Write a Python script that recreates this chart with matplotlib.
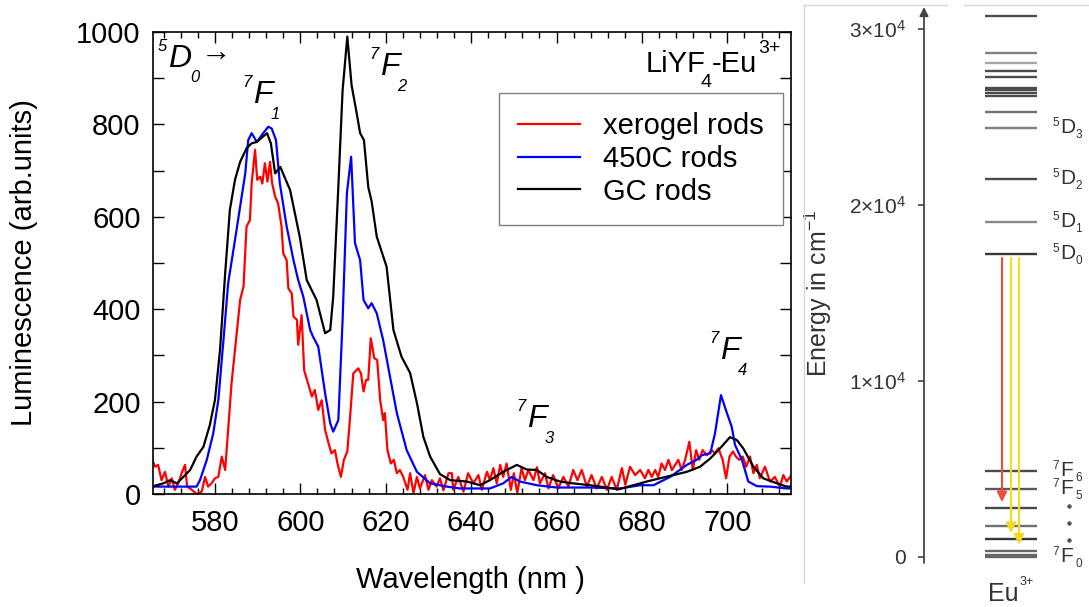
import numpy as np
import matplotlib.pyplot as plt
from matplotlib.lines import Line2D
from matplotlib.ticker import MultipleLocator

plt.rcParams['font.family'] = ['Liberation Sans', 'DejaVu Sans']
plt.rcParams['mathtext.fontset'] = 'custom'
plt.rcParams['mathtext.rm'] = 'Liberation Sans'
plt.rcParams['mathtext.it'] = 'Liberation Sans:italic'

# ---- emission spectra (wavelength nm, luminescence arb. units) ----
wl_xerogel = [565.2, 566.0, 566.7, 567.5, 568.3, 569.1, 569.9, 570.6, 571.4, 572.2,
              573.0, 573.5, 574.6, 575.7, 576.9, 577.7, 578.4, 579.2, 580.0, 580.8,
              581.6, 582.4, 583.1, 583.9, 585.1, 585.9, 586.7, 587.4, 588.2, 588.6,
              589.4, 589.9, 590.6, 591.1, 591.7, 592.3, 592.9, 593.4, 594.1, 594.8,
              595.6, 596.0, 596.8, 597.2, 598.0, 598.4, 599.2, 599.5, 600.3, 600.9,
              601.9, 602.7, 603.4, 604.2, 605.0, 605.8, 606.6, 607.3, 608.1, 608.7,
              609.5, 610.2, 611.0, 611.6, 612.4, 613.6, 614.2, 614.8, 615.4, 615.9,
              616.5, 617.3, 618.0, 618.7, 619.4, 619.8, 620.4, 621.2, 621.9, 622.6,
              623.3, 624.1, 625.1, 625.7, 626.5, 627.3, 628.0, 629.2, 630.0, 630.8,
              631.9, 632.7, 633.5, 634.7, 635.5, 635.8, 637.0, 638.2, 639.3, 640.5,
              641.7, 642.5, 643.7, 644.4, 645.2, 646.0, 646.8, 647.5, 648.3, 649.3,
              650.0, 650.8, 651.8, 652.6, 653.4, 654.6, 655.4, 656.1, 657.3, 658.1,
              659.2, 660.4, 661.6, 662.8, 663.9, 664.9, 665.9, 667.1, 668.2, 669.4,
              670.6, 671.8, 672.9, 674.1, 675.3, 676.1, 677.2, 678.4, 679.6, 680.7,
              681.5, 682.3, 683.1, 683.8, 684.6, 685.4, 686.2, 687.0, 687.8, 688.5,
              689.3, 690.1, 691.1, 691.9, 692.7, 693.4, 694.2, 695.2, 696.3, 697.1,
              697.9, 698.9, 699.7, 700.5, 701.3, 702.0, 702.8, 703.6, 704.4, 705.3,
              706.1, 706.9, 707.6, 708.8, 710.0, 711.1, 712.3, 713.1, 713.9, 715.0]
lum_xerogel = [77, 59, 63, 30, 48, 16, 34, 9, 23, 45,
               63, 16, 9, 0, 5, 37, 16, 23, 34, 37,
               81, 52, 139, 240, 348, 420, 449, 579, 593, 672,
               745, 680, 687, 672, 716, 676, 719, 672, 644, 629,
               579, 521, 506, 445, 434, 384, 377, 323, 387, 268,
               236, 211, 225, 182, 203, 139, 110, 88, 95, 66,
               37, 74, 92, 160, 261, 272, 261, 222, 247, 247,
               337, 294, 290, 203, 160, 175, 95, 66, 74, 45,
               52, 37, 9, 45, 2, 37, 12, 41, 9, 30,
               16, 34, 8, 45, 45, 9, 37, 5, 45, 23,
               41, 9, 48, 30, 56, 23, 63, 37, 66, 9,
               45, 2, 56, 30, 52, 30, 58, 23, 45, 12,
               41, 12, 37, 16, 52, 30, 52, 16, 41, 12,
               37, 9, 37, 9, 56, 20, 59, 41, 52, 34,
               52, 37, 52, 37, 66, 52, 74, 52, 63, 74,
               52, 74, 113, 52, 95, 74, 95, 84, 95, 88,
               99, 74, 34, 81, 92, 81, 74, 81, 59, 81,
               45, 63, 34, 59, 27, 37, 16, 41, 27, 41]

wl_450c = [564.8, 568.0, 572.0, 575.7, 576.5, 578.1, 579.6, 580.8, 582.0, 583.1,
           584.7, 585.9, 587.1, 587.8, 588.6, 589.8, 591.3, 592.5, 593.3, 594.3,
           595.2, 596.8, 598.4, 599.5, 600.7, 602.3, 603.0, 604.2, 605.8, 607.0,
           607.7, 608.9, 609.9, 610.9, 611.9, 612.8, 614.0, 614.8, 615.9, 616.7,
           617.9, 619.4, 621.0, 622.6, 624.9, 627.3, 630.4, 632.7, 634.3, 637.4,
           640.5, 644.4, 647.5, 649.5, 651.4, 655.4, 660.0, 667.8, 674.9, 679.6,
           682.7, 686.6, 690.5, 692.8, 694.0, 696.0, 697.1, 698.5, 699.9, 701.0,
           701.8, 703.4, 704.9, 706.9, 710.0, 713.9, 715.0]
lum_450c = [16, 16, 16, 16, 30, 74, 131, 203, 333, 456,
            550, 622, 694, 766, 781, 762, 781, 795, 791, 766,
            672, 579, 506, 463, 427, 355, 340, 319, 218, 153,
            135, 160, 377, 651, 730, 543, 506, 420, 402, 413,
            391, 333, 254, 175, 95, 48, 23, 19, 16, 12,
            12, 12, 23, 37, 27, 19, 14, 14, 12, 19,
            19, 37, 63, 74, 84, 88, 131, 214, 175, 146,
            106, 74, 27, 17, 16, 12, 12]

wl_gc = [565.2, 567.9, 569.5, 571.1, 572.6, 574.2, 575.7, 577.3, 578.8, 580.0,
         581.2, 582.4, 583.5, 584.7, 585.9, 587.4, 588.6, 589.8, 592.2, 593.1,
         594.1, 595.3, 597.6, 599.9, 601.5, 603.8, 605.8, 607.0, 607.7, 608.9,
         609.9, 611.0, 612.0, 613.2, 614.0, 614.9, 615.9, 616.7, 617.9, 620.2,
         621.8, 623.7, 625.7, 627.3, 628.8, 630.4, 632.7, 635.1, 639.0, 642.1,
         644.4, 647.5, 650.7, 653.0, 655.4, 657.7, 660.8, 663.9, 667.8, 671.8,
         674.5, 677.2, 679.6, 681.1, 684.2, 687.4, 690.5, 693.6, 696.0, 698.3,
         700.6, 702.2, 703.7, 706.1, 708.4, 711.6, 713.9, 715.0]
lum_gc = [16, 23, 30, 23, 37, 52, 81, 102, 149, 203,
          312, 478, 615, 680, 719, 748, 759, 762, 781, 759,
          694, 708, 658, 555, 463, 420, 348, 355, 427, 665,
          874, 990, 885, 824, 781, 766, 665, 633, 557, 492,
          355, 297, 262, 197, 124, 81, 43, 30, 27, 19,
          30, 48, 63, 53, 52, 37, 27, 23, 19, 14,
          10, 17, 23, 27, 34, 41, 48, 59, 77, 99,
          123, 117, 99, 59, 34, 23, 16, 16]

series_labels = ['xerogel rods', '450C rods', 'GC rods']
series_colors = ['#ff0000', '#0000ff', '#000000']
x_ticks = [580, 600, 620, 640, 660, 680, 700]
y_ticks = [0, 200, 400, 600, 800, 1000]

# ---- Eu3+ energy levels (cm^-1) ----
d_levels = [30750, 28650, 28080, 27610, 27290, 26650, 26510, 26360, 26220,
            25280, 24380, 21480, 19030, 17220]
d_shades = ['#4a4a4a', '#808080', '#a5a5a5', '#4a4a4a', '#4a4a4a', '#4a4a4a',
            '#4a4a4a', '#4a4a4a', '#4a4a4a', '#707070', '#808080', '#4a4a4a',
            '#8a8a8a', '#383838']
f_levels = [4890, 3860, 2780, 1760, 1020, 360, 130, 0]
f_shades = ['#4a4a4a', '#5a5a5a', '#4a4a4a', '#707070', '#383838', '#666666',
            '#666666', '#666666']
d_names = [('5', 'D', '3', 24380), ('5', 'D', '2', 21480), ('5', 'D', '1', 19030),
           ('5', 'D', '0', 17220)]
f_names = [('7', 'F', '6', 4890), ('7', 'F', '5', 3860), ('7', 'F', '0', 0)]
energy_ticks = [0, 10000, 20000, 30000]
energy_ticklabels = ['0', r'$1{\times}10^4$', r'$2{\times}10^4$', r'$3{\times}10^4$']
start_level = 17220
transitions = [(2780, '#ee4b3a'), (1020, '#f2dc1c'), (360, '#f2dc1c')]

W, H = 1089, 607
fig = plt.figure(figsize=(W / 100, H / 100), dpi=100)


def box(left, top, right, bottom):
    return [left / W, 1 - bottom / H, (right - left) / W, (bottom - top) / H]


def term(ax, x, y, sup, base, sub, size, small, adv, sup_dy, sub_dy,
         style='italic', color='black'):
    """Term symbol: big letter with a left superscript and a right subscript."""
    kw = dict(xy=(x, y), textcoords='offset points', va='baseline',
              style=style, color=color, annotation_clip=False)
    ax.annotate(base, xytext=(0, 0), ha='left', fontsize=size, **kw)
    ax.annotate(sup, xytext=(-1, sup_dy), ha='right', fontsize=small, **kw)
    ax.annotate(sub, xytext=(adv, sub_dy), ha='left', fontsize=small, **kw)


# ---------------- spectrum ----------------
ax = fig.add_axes(box(153, 32, 791, 494))
for wl, lum, lab, col in zip([wl_xerogel, wl_450c, wl_gc],
                             [lum_xerogel, lum_450c, lum_gc],
                             series_labels, series_colors):
    ax.plot(wl, lum, color=col, lw=1.6, label=lab)

ax.set_xlim(565.5, 714.9)
ax.set_ylim(0, 1000)
ax.set_xticks(x_ticks)
ax.set_yticks(y_ticks)
ax.xaxis.set_minor_locator(MultipleLocator(4))
ax.yaxis.set_minor_locator(MultipleLocator(100))
ax.tick_params(which='both', direction='in', top=True, right=True, width=1)
ax.tick_params(which='major', length=8)
ax.tick_params(axis='x', which='minor', length=4)
ax.tick_params(axis='y', which='minor', length=8)
ax.tick_params(axis='y', labelsize=21, pad=9)
ax.tick_params(axis='x', labelsize=21, pad=11)
for sp in ax.spines.values():
    sp.set_linewidth(1.2)

ax.set_ylabel('Luminescence (arb.units)', fontsize=21)
ax.yaxis.set_label_coords((38 - 153) / 638, 0.5)
ax.set_xlabel('Wavelength (nm )', fontsize=21)
ax.xaxis.set_label_coords(0.497, (494 - 566) / 462)

leg = ax.legend(loc='upper left', bbox_to_anchor=((499 - 153) / 638, (494 - 93) / 462),
                fontsize=21, fancybox=False, edgecolor='#808080', framealpha=1,
                handlelength=2.1, handletextpad=0.8, borderpad=0.66,
                labelspacing=0.16, borderaxespad=0)
leg.get_frame().set_linewidth(1.0)

# transition labels
term(ax, 569.0, 924, '5', 'D', '0', 23, 12, adv=16, sup_dy=11.5, sub_dy=-11)
ax.annotate('\u2192', xy=(569.0, 924), xytext=(24, 9.5), textcoords='offset points',
            ha='left', va='center', fontsize=22,
            family=['Liberation Sans', 'DejaVu Sans'])
for x, y, sub in [(588.9, 846, '1'), (618.7, 907, '2'), (653.1, 145, '3'),
                  (698.3, 292, '4')]:
    term(ax, x, y, '7', 'F', sub, 23, 12, adv=12.5, sup_dy=11.5, sub_dy=-11.5)

ax.annotate('LiYF', xy=(680.8, 913), xytext=(0, 0), textcoords='offset points',
            ha='left', va='baseline', fontsize=21)
ax.annotate('4', xy=(680.8, 913), xytext=(40, -11), textcoords='offset points',
            ha='left', va='baseline', fontsize=14)
ax.annotate('-Eu', xy=(680.8, 913), xytext=(48, 0), textcoords='offset points',
            ha='left', va='baseline', fontsize=21)
ax.annotate('3+', xy=(680.8, 913), xytext=(81, 14), textcoords='offset points',
            ha='left', va='baseline', fontsize=14, annotation_clip=False)

# ---------------- energy level diagram ----------------
ax2 = fig.add_axes(box(804, 5, 1089, 607))
ax2.patch.set_visible(False)
ax2.set_xlim(804, 1089)
ax2.set_ylim((557 - 607) / 0.0176, (557 - 5) / 0.0176)
for name in ['top', 'right', 'bottom']:
    ax2.spines[name].set_visible(False)
ax2.spines['left'].set_position(('data', 924))
ax2.spines['left'].set_alpha(0)
ax2.set_xticks([])
ax2.set_yticks(energy_ticks, labels=energy_ticklabels)
ax2.tick_params(axis='y', direction='out', length=4, width=1.2, color='#444444',
                labelsize=15, labelcolor='#333333', pad=9)
ax2.annotate('', xy=(924, 31250), xytext=(924, -340),
             arrowprops=dict(arrowstyle='-|>', color='#444444', lw=1.3,
                             mutation_scale=13, shrinkA=0, shrinkB=0))
ax2.text(818, 15000, 'Energy in cm$^{-1}$', rotation=90, ha='center',
         va='center', fontsize=18, color='#333333')

ax2.hlines(d_levels, 985, 1037, colors=d_shades, lw=1.7)
ax2.hlines(f_levels, 985, 1037, colors=f_shades, lw=1.7)

for sup, base, sub, e in d_names + f_names:
    term(ax2, 1060, e - 300, sup, base, sub, 15, 8.5, adv=11, sup_dy=5.5,
         sub_dy=-3.5, style='normal', color='#333333')
dots = np.linspace(f_names[1][3], f_names[2][3], 5)[1:-1]
ax2.plot([1069] * len(dots), dots, ls='none', marker='o', ms=2.2, color='#555555')

ax2.annotate('Eu', xy=(988, -2045), xytext=(0, -6), textcoords='offset points',
             ha='left', va='baseline', fontsize=18, color='#333333',
             annotation_clip=False)
ax2.annotate('3+', xy=(988, -2045), xytext=(22.5, 6), textcoords='offset points',
             ha='left', va='baseline', fontsize=9, color='#333333',
             annotation_clip=False)

for xpos, (target, col) in zip([1002, 1011, 1019], transitions):
    ax2.annotate('', xy=(xpos, target + 340), xytext=(xpos, start_level - 230),
                 arrowprops=dict(arrowstyle='-|>', color=col, lw=1.5,
                                 mutation_scale=15, shrinkA=0, shrinkB=0))

# thin frame of the diagram panel
for xs, ys in [((804, 947), (5, 5)), ((964, 1089), (5, 5)), ((804, 804), (5, 583))]:
    fig.add_artist(Line2D([x / W for x in xs], [1 - y / H for y in ys],
                          transform=fig.transFigure, color='#d6d6d6', lw=1))

fig.savefig('out.png', dpi=100)
